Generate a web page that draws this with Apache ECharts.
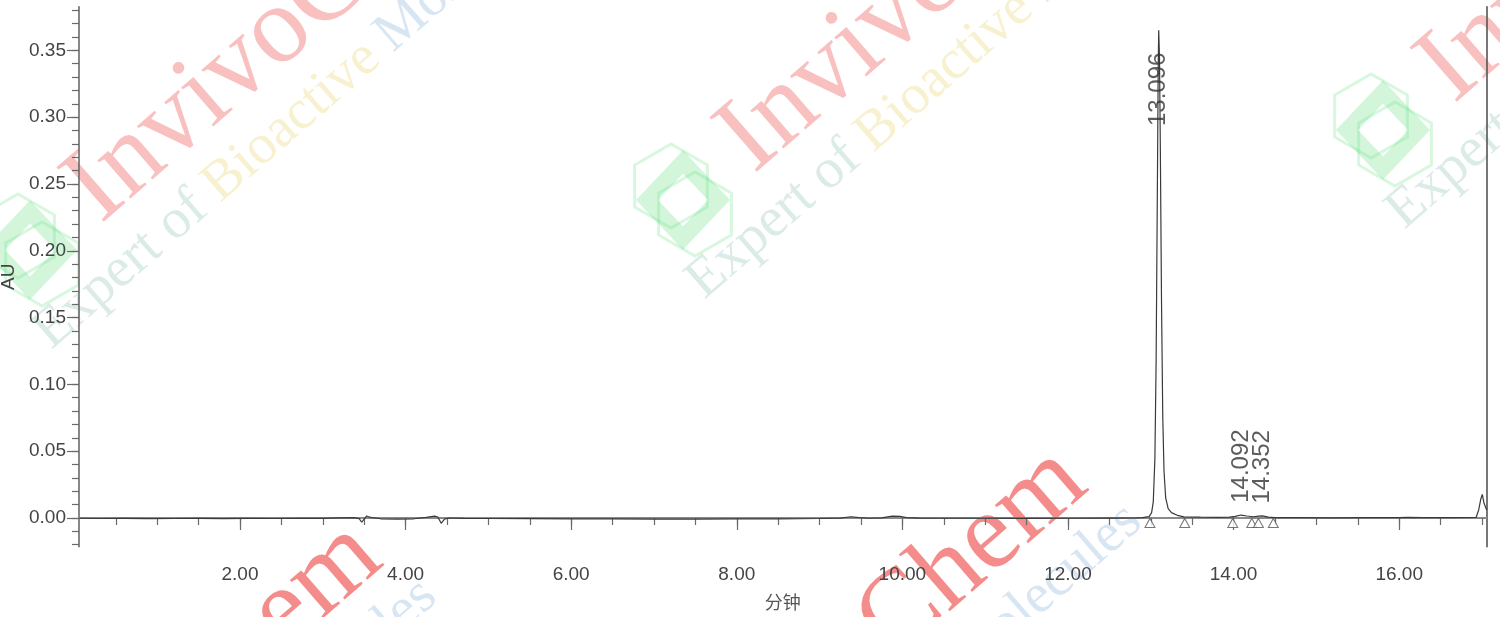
<!DOCTYPE html>
<html>
<head>
<meta charset="utf-8">
<script src="https://cdn.jsdelivr.net/npm/echarts@6/dist/echarts.min.js"></script>
<style>html,body{margin:0;padding:0;background:#fff}#c{width:1500px;height:617px}</style>
</head>
<body>
<div id="c"></div>
<script>
// ---- data ----
const timeMin = [
  0.06, 0.3, 0.6, 0.9, 1.2, 1.5, 1.8, 2.1, 2.4, 2.7, 3.0, 3.2, 3.38, 3.44, 3.47, 3.50, 3.53, 3.58, 3.7, 3.9,
  4.1, 4.25, 4.35, 4.39, 4.43, 4.47, 4.52, 4.7, 5.0, 5.5, 6.0, 6.5, 7.0, 7.5, 8.0, 8.5, 9.0, 9.25, 9.38, 9.48,
  9.6, 9.75, 9.88, 9.97, 10.05, 10.2, 10.6, 11.0, 11.5, 12.0, 12.5, 12.8, 12.9, 12.98, 13.01, 13.03, 13.05, 13.065, 13.08, 13.09,
  13.096, 13.105, 13.115, 13.13, 13.145, 13.16, 13.18, 13.21, 13.25, 13.32, 13.40, 13.6, 13.8, 13.95, 14.02, 14.09, 14.16, 14.24, 14.30, 14.35,
  14.42, 14.5, 14.8, 15.2, 15.6, 16.0, 16.1, 16.3, 16.6, 16.93, 16.96, 16.985, 17.004, 17.025, 17.057
];
const absorbanceAU = [
  -0.0002, -0.0004, -0.0003, -0.0005, -0.0004, -0.0003, -0.0005, -0.0003, -0.0004, -0.0003, -0.0003, 0.0001, 0.0003, -0.0005, -0.0032, -0.0008, 0.0015, 0.0004, -0.0006, -0.0009,
  -0.0006, 0.0005, 0.0014, 0.0007, -0.0040, -0.0008, 0.0000, -0.0003, -0.0004, -0.0005, -0.0006, -0.0007, -0.0008, -0.0008, -0.0007, -0.0006, -0.0004, -0.0001, 0.0009, 0.0002,
  -0.0002, 0.0001, 0.0014, 0.0012, 0.0002, -0.0001, -0.0002, -0.0002, -0.0003, -0.0002, -0.0001, 0.0000, 0.0003, 0.0010, 0.0040, 0.0120, 0.0450, 0.1200, 0.2500, 0.3400,
  0.3650, 0.3450, 0.2800, 0.1600, 0.0750, 0.0350, 0.0150, 0.0070, 0.0040, 0.0020, 0.0008, 0.0006, 0.0005, 0.0006, 0.0012, 0.0022, 0.0015, 0.0009, 0.0014, 0.0016,
  0.0007, 0.0003, 0.0002, 0.0001, 0.0002, 0.0003, 0.0004, 0.0002, 0.0002, 0.0005, 0.0060, 0.0140, 0.0177, 0.0110, 0.0060
];
const peakTimes = [13.096, 14.092, 14.352];
const peakHeights = [0.365, 0.0022, 0.0016];
const integrationMarkTimes = [12.99, 13.41, 13.99, 14.22, 14.30, 14.48];
const integrationMarkAU = [-0.0037, -0.0037, -0.0037, -0.0037, -0.0037, -0.0037];
const xMajorTicks = [2, 4, 6, 8, 10, 12, 14, 16];
const xMinorTicks = [0.5, 1, 1.5, 2, 2.5, 3, 3.5, 4, 4.5, 5, 5.5, 6, 6.5, 7, 7.5, 8, 8.5, 9, 9.5, 10, 10.5, 11, 11.5, 12, 12.5, 13, 13.5, 14, 14.5, 15, 15.5, 16, 16.5, 17];
const yMajorTicks = [0, 0.05, 0.10, 0.15, 0.20, 0.25, 0.30, 0.35];
const yMinorTicks = [-0.02, -0.01, 0, 0.01, 0.02, 0.03, 0.04, 0.05, 0.06, 0.07, 0.08, 0.09, 0.10, 0.11, 0.12, 0.13, 0.14, 0.15, 0.16, 0.17, 0.18, 0.19, 0.20, 0.21, 0.22, 0.23, 0.24, 0.25, 0.26, 0.27, 0.28, 0.29, 0.30, 0.31, 0.32, 0.33, 0.34, 0.35, 0.36, 0.37, 0.38];
const xRange = [0.056, 17.057];
const yRange = [-0.0215, 0.3827];

// ---- watermark (decorative) ----
function hexPts(cx, cy, r) {
  const p = [];
  for (let k = 0; k < 6; k++) { const a = Math.PI / 6 + k * Math.PI / 3; p.push([cx + r * Math.cos(a), cy + r * Math.sin(a)]); }
  return p;
}
function tile(Lx, Ly, redAlpha) {
  const rot = 41 * Math.PI / 180;
  const g = 'rgba(110,225,135,0.28)';
  const serif = '"Liberation Serif", "DejaVu Serif", serif';
  return {
    type: 'group', x: Lx, y: Ly, silent: true,
    children: [
      { type: 'polygon', shape: { points: hexPts(-12, -14, 42) }, style: { fill: 'none', stroke: g, lineWidth: 3 } },
      { type: 'polygon', shape: { points: hexPts(12, 14, 42) }, style: { fill: 'none', stroke: g, lineWidth: 3 } },
      { type: 'polygon', shape: { points: [[0, -38], [36, 0], [0, 38], [-36, 0]] }, style: { fill: 'none', stroke: 'rgba(110,225,135,0.3)', lineWidth: 16 } },
      { type: 'text', x: 88, y: -6, rotation: rot, style: { text: 'InvivoChem', font: '110px ' + serif, fill: 'rgba(235,45,45,' + redAlpha + ')', textAlign: 'left', textVerticalAlign: 'bottom' } },
      { type: 'text', x: 30, y: 110, rotation: rot, style: {
          text: '{a|Expert of }{b|Bioactive }{c|Molecules}',
          textAlign: 'left', textVerticalAlign: 'bottom',
          rich: {
            a: { font: '56px ' + serif, fill: 'rgba(90,165,150,0.22)' },
            b: { font: '56px ' + serif, fill: 'rgba(225,200,70,0.26)' },
            c: { font: '56px ' + serif, fill: 'rgba(90,145,205,0.24)' }
          } } }
    ]
  };
}

const chart = echarts.init(document.getElementById('c'), null, { renderer: 'canvas' });
const axisGray = '#6a6a6a';
const option = {
  animation: false,
  backgroundColor: '#ffffff',
  grid: { left: 79, right: 13.3, top: 6.7, bottom: 70.3, containLabel: false, outerBoundsMode: 'none' },
  graphic: [
    tile(30, 250, 0.3), tile(683, 200, 0.3), tile(1383, 130, 0.3),
    tile(-100, 950, 0.55), tile(605, 875, 0.55)
  ],
  xAxis: [
    { type: 'value', min: xRange[0], max: xRange[1], position: 'bottom',
      axisLine: { show: true, lineStyle: { color: axisGray, width: 1.6 } },
      axisTick: { show: true, customValues: xMinorTicks, length: 7, lineStyle: { color: axisGray, width: 1.2 } },
      axisLabel: { show: false }, splitLine: { show: false } },
    { type: 'value', min: xRange[0], max: xRange[1], position: 'bottom',
      name: '分钟', nameLocation: 'middle', nameGap: 46,
      nameTextStyle: { fontSize: 18, color: '#555', fontFamily: '"Noto Sans CJK SC", sans-serif' },
      axisLine: { show: false },
      axisTick: { show: true, customValues: xMajorTicks, length: 12, lineStyle: { color: axisGray, width: 1.2 } },
      axisLabel: { show: true, customValues: xMajorTicks, margin: 19, fontSize: 19, color: '#444', fontFamily: '"Liberation Sans", Arial, sans-serif', formatter: v => v.toFixed(2) },
      splitLine: { show: false } },
    { type: 'value', min: xRange[0], max: xRange[1], position: 'top',
      axisLine: { show: true, lineStyle: { color: '#8a8a8a', width: 2 } },
      axisTick: { show: false }, axisLabel: { show: false }, splitLine: { show: false } }
  ],
  yAxis: [
    { type: 'value', min: yRange[0], max: yRange[1], position: 'left',
      axisLine: { show: true, lineStyle: { color: axisGray, width: 1.6 } },
      axisTick: { show: true, customValues: yMinorTicks, length: 7, lineStyle: { color: axisGray, width: 1.2 } },
      axisLabel: { show: false }, splitLine: { show: false } },
    { type: 'value', min: yRange[0], max: yRange[1], position: 'left',
      name: 'AU', nameLocation: 'middle', nameGap: 61, nameRotate: 90,
      nameTextStyle: { fontSize: 19, color: '#444', fontFamily: '"Liberation Sans", Arial, sans-serif' },
      axisLine: { show: false },
      axisTick: { show: true, customValues: yMajorTicks, length: 12, lineStyle: { color: axisGray, width: 1.2 } },
      axisLabel: { show: true, customValues: yMajorTicks, margin: 13, fontSize: 19, color: '#444', fontFamily: '"Liberation Sans", Arial, sans-serif', formatter: v => v.toFixed(2) },
      splitLine: { show: false } },
    { type: 'value', min: yRange[0], max: yRange[1], position: 'right',
      axisLine: { show: true, lineStyle: { color: '#555', width: 1.6 } },
      axisTick: { show: false }, axisLabel: { show: false }, splitLine: { show: false } }
  ],
  series: [
    { type: 'line', name: 'signal', xAxisIndex: 0, yAxisIndex: 0, showSymbol: false, symbol: 'none', smooth: false,
      lineStyle: { color: '#3a3a3a', width: 1.2 }, z: 5,
      data: timeMin.map((t, i) => [t, absorbanceAU[i]]) },
    { type: 'scatter', name: 'integration marks', xAxisIndex: 0, yAxisIndex: 0, symbol: 'triangle', symbolSize: [10, 9],
      itemStyle: { color: '#ffffff', borderColor: '#555', borderWidth: 1 }, z: 6,
      data: integrationMarkTimes.map((t, i) => [t, integrationMarkAU[i]]) },
    { type: 'scatter', name: 'peak labels', xAxisIndex: 0, yAxisIndex: 0, symbolSize: 0, z: 7,
      data: peakTimes.map((t, i) => ({
        value: [t, peakHeights[i]],
        label: { offset: i === 0 ? [-59, 0] : [49, 0] }
      })),
      label: { show: true, position: 'inside', rotate: 90, fontSize: 24, color: '#333',
        fontFamily: '"Liberation Sans", Arial, sans-serif', formatter: p => p.value[0].toFixed(3) } }
  ]
};
chart.setOption(option);
</script>
</body>
</html>
